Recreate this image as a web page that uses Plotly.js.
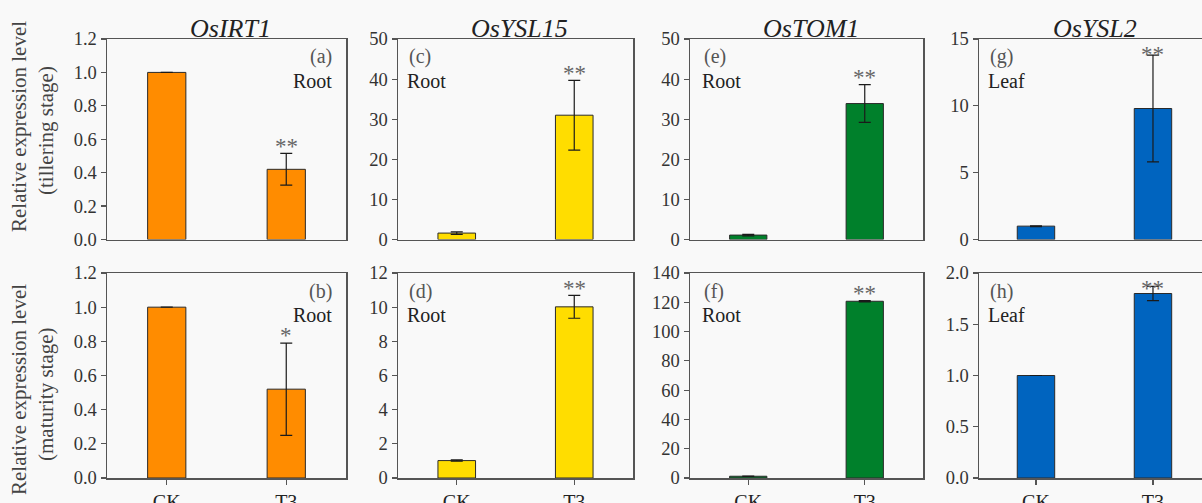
<!DOCTYPE html>
<html>
<head>
<meta charset="utf-8">
<script src="https://cdn.plot.ly/plotly-3.0.1.min.js"></script>
<style>html,body{margin:0;padding:0;background:#f9f9f9;}#chart{width:1202px;height:503px;}</style>
</head>
<body>
<div id="chart"></div>
<script>
// ---- data ----
const groups = ['CK', 'T3'];
const genes = ['OsIRT1', 'OsYSL15', 'OsTOM1', 'OsYSL2'];
const barColors = ['#ff8c00', '#ffdd00', '#00802b', '#0064bf'];

const tilleringIRT1 = [1.0, 0.42];
const tilleringYSL15 = [1.6, 31.0];
const tilleringTOM1 = [1.1, 33.9];
const tilleringYSL2 = [1.0, 9.8];
const tilleringErrIRT1 = [0.0, 0.095];
const tilleringErrYSL15 = [0.3, 8.7];
const tilleringErrTOM1 = [0.2, 4.7];
const tilleringErrYSL2 = [0.03, 4.0];

const maturityIRT1 = [1.0, 0.52];
const maturityYSL15 = [1.02, 10.02];
const maturityTOM1 = [1.2, 120.7];
const maturityYSL2 = [1.0, 1.8];
const maturityErrIRT1 = [0.0, 0.27];
const maturityErrYSL15 = [0.04, 0.67];
const maturityErrTOM1 = [0.1, 0.45];
const maturityErrYSL2 = [0.0, 0.07];

const tilleringSig = ['**', '**', '**', '**'];
const maturitySig = ['*', '**', '**', '**'];
const tilleringLetters = ['(a)', '(c)', '(e)', '(g)'];
const maturityLetters = ['(b)', '(d)', '(f)', '(h)'];
const tilleringTissue = ['Root', 'Root', 'Root', 'Leaf'];
const maturityTissue = ['Root', 'Root', 'Root', 'Leaf'];

const tilleringYMax = [1.2, 50, 50, 15];
const tilleringDtick = [0.2, 10, 10, 5];
const maturityYMax = [1.2, 12, 140, 2.0];
const maturityDtick = [0.2, 2, 20, 0.5];

const yTitleMain = 'Relative expression level';
const yTitleTillering = '(tillering stage)';
const yTitleMaturity = '(maturity stage)';

// ---- layout helpers ----
const W = 1202, H = 503;
const FONT = 'Liberation Serif, Times New Roman, serif';
const px = v => v / W;
const py = v => 1 - v / H;
const colPx = [[107, 346], [398, 633], [690, 923], [979, 1202]];
const rowPx = [[39, 239.5], [273, 478]];

const rowsData = [
  {vals: [tilleringIRT1, tilleringYSL15, tilleringTOM1, tilleringYSL2],
   errs: [tilleringErrIRT1, tilleringErrYSL15, tilleringErrTOM1, tilleringErrYSL2],
   sig: tilleringSig, letters: tilleringLetters, tissue: tilleringTissue,
   ymax: tilleringYMax, dtick: tilleringDtick},
  {vals: [maturityIRT1, maturityYSL15, maturityTOM1, maturityYSL2],
   errs: [maturityErrIRT1, maturityErrYSL15, maturityErrTOM1, maturityErrYSL2],
   sig: maturitySig, letters: maturityLetters, tissue: maturityTissue,
   ymax: maturityYMax, dtick: maturityDtick}
];

const traces = [];
const layout = {
  width: W, height: H,
  margin: {l: 0, r: 0, t: 0, b: 0},
  paper_bgcolor: '#f9f9f9',
  plot_bgcolor: '#f9f9f9',
  showlegend: false,
  font: {family: FONT, color: '#333'},
  annotations: [],
  bargap: 0
};

rowsData.forEach((row, r) => {
  for (let c = 0; c < 4; c++) {
    const idx = r * 4 + c + 1;
    const xa = 'x' + idx, ya = 'y' + idx;
    const xKey = 'xaxis' + idx, yKey = 'yaxis' + idx;
    const lastCol = c === 3;
    traces.push({
      type: 'bar', x: groups, y: row.vals[c], xaxis: xa, yaxis: ya,
      width: 0.32,
      marker: {color: barColors[c], line: {color: '#2a2a2a', width: 1}},
      error_y: {type: 'data', array: row.errs[c], visible: true, color: '#1a1a1a', thickness: 1.2, width: 6},
      hoverinfo: 'none'
    });
    layout[xKey] = {
      domain: [px(colPx[c][0]), px(colPx[c][1])],
      anchor: ya,
      type: 'category',
      range: lastCol ? [-0.487, 1.419] : [-0.5, 1.5],
      showgrid: false, zeroline: false,
      showline: true, linecolor: '#555', linewidth: 1.5, mirror: true,
      ticks: r === 1 ? 'outside' : '', ticklen: 5, tickcolor: '#555', tickwidth: 1.2,
      showticklabels: r === 1,
      tickfont: {family: FONT, size: 20, color: '#222'},
      fixedrange: true
    };
    layout[yKey] = {
      domain: [py(rowPx[r][1]), py(rowPx[r][0])],
      anchor: xa,
      range: [0, row.ymax[c]],
      dtick: row.dtick[c], tick0: 0,
      tickformat: row.dtick[c] < 1 ? '.1f' : 'd',
      showgrid: false, zeroline: false,
      showline: true, linecolor: '#555', linewidth: 1.5, mirror: !lastCol,
      ticks: 'outside', ticklen: 5, tickcolor: '#555', tickwidth: 1.2,
      tickfont: {family: FONT, size: 18.5, color: '#333'},
      fixedrange: true
    };
    // significance
    const top = row.vals[c][1] + row.errs[c][1];
    const R = row.ymax[c];
    const sy = Math.min(top + 0.06 * R, 0.95 * R);
    layout.annotations.push({
      xref: xa, yref: ya, x: groups[1], y: sy, text: row.sig[c],
      showarrow: false, xanchor: 'center', yanchor: 'middle', yshift: -5,
      font: {family: FONT, size: 23, color: '#666'}
    });
    // panel letter + tissue
    const right = c === 0;
    const ax = right ? 1 : 0, anc = right ? 'right' : 'left';
    const xs = right ? -12 : (c === 2 ? 12 : 9);
    layout.annotations.push({
      xref: xa + ' domain', yref: ya + ' domain', x: ax, y: 1,
      text: row.letters[c], showarrow: false, xanchor: anc, yanchor: 'middle',
      xshift: xs, yshift: -18, font: {family: FONT, size: 20, color: '#555'}
    });
    layout.annotations.push({
      xref: xa + ' domain', yref: ya + ' domain', x: ax, y: 1,
      text: row.tissue[c], showarrow: false, xanchor: anc, yanchor: 'middle',
      xshift: xs - (right ? 0 : 2), yshift: -42, font: {family: FONT, size: 20, color: '#222'}
    });
    if (r === 0) {
      layout.annotations.push({
        xref: xa + ' domain', yref: 'paper', x: 0.5, y: py(28),
        text: '<i>' + genes[c] + '</i>', showarrow: false,
        xanchor: 'center', yanchor: 'middle', xshift: 4,
        font: {family: FONT, size: 26, color: '#222'}
      });
    }
  }
});

// y-axis titles
[[yTitleTillering, 127], [yTitleMaturity, 390]].forEach(([sub, cy]) => {
  layout.annotations.push({
    xref: 'paper', yref: 'paper', x: px(19), y: py(cy), text: yTitleMain,
    textangle: -90, showarrow: false, xanchor: 'center', yanchor: 'middle',
    font: {family: FONT, size: 21, color: '#444'}
  });
  layout.annotations.push({
    xref: 'paper', yref: 'paper', x: px(46), y: py(cy + 4), text: sub,
    textangle: -90, showarrow: false, xanchor: 'center', yanchor: 'middle',
    font: {family: FONT, size: 21, color: '#444'}
  });
});

Plotly.newPlot('chart', traces, layout, {displayModeBar: false, staticPlot: true});
</script>
</body>
</html>
